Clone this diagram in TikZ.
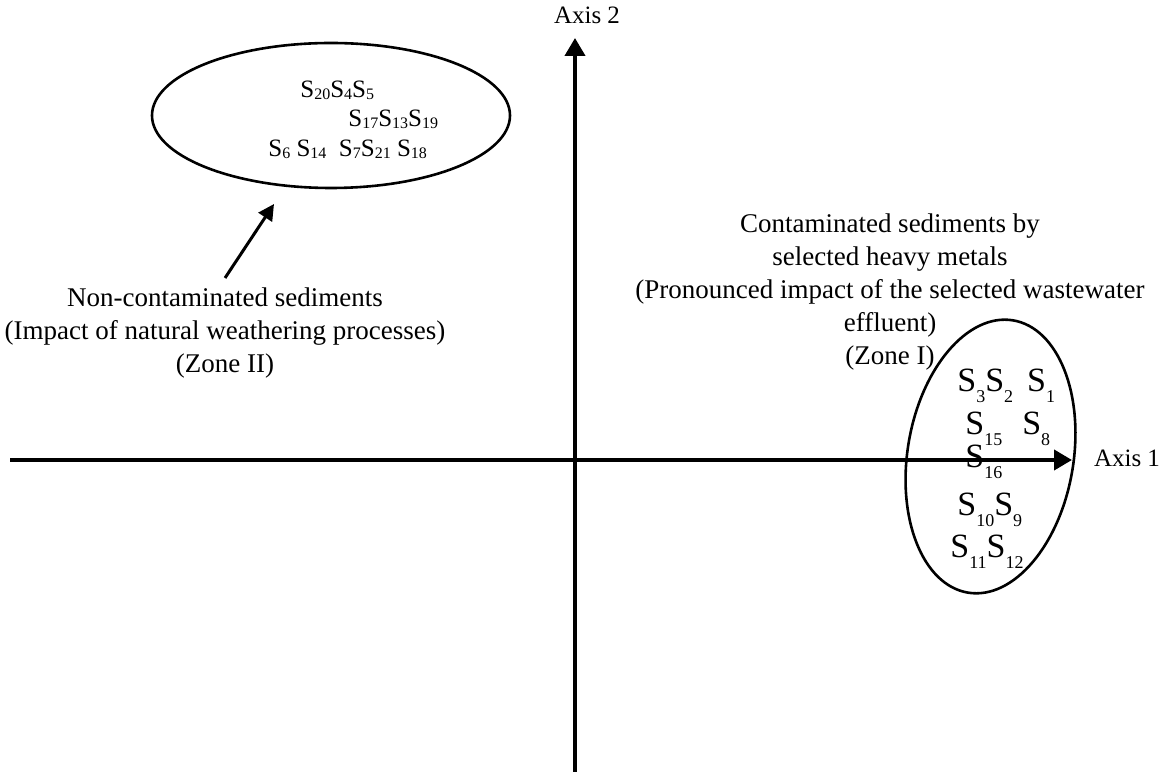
\documentclass[tikz,border=0pt]{standalone}
\usepackage{fontspec}
\setmainfont{Liberation Serif}
\usetikzlibrary{arrows.meta,shapes.geometric}
\tikzset{
  axisline/.style={-{Triangle[length=9pt,width=10pt]},draw=black,line width=2pt},
  pointer/.style={-{Triangle[length=8pt,width=8pt]},draw=black,line width=1.5pt},
  zone/.style={ellipse,draw=black,line width=1.3pt,inner sep=0pt},
  lbl/.style={align=center,font=\fontsize{13.5}{16.5}\selectfont,inner sep=0pt},
  axislbl/.style={font=\fontsize{12.5}{15}\selectfont,inner sep=0pt},
  sitesmall/.style={anchor=base west,inner sep=0pt,font=\fontsize{12.5}{15}\selectfont},
  sitebig/.style={anchor=base west,inner sep=0pt,font=\fontsize{17}{20}\selectfont},
}
\newcommand\Ss[1]{S\raisebox{-1pt}{\fontsize{8}{8}\selectfont #1}}
\newcommand\Sb[1]{S\raisebox{-5.5pt}{\fontsize{9}{9}\selectfont #1}}

\begin{document}
\begin{tikzpicture}[x=0.5pt,y=-0.5pt]

\useasboundingbox (0,0) rectangle (1169,774);

% axes
\coordinate (xstart) at (10,460);
\coordinate (xend)   at (1072,460);
\coordinate (ystart) at (575,772);
\coordinate (yend)   at (575,38);

\draw[axisline] (xstart) -- (xend);
\draw[axisline] (ystart) -- (yend);

\node[axislbl] (axis1) at (1127,458) {Axis 1};
\node[axislbl] (axis2) at (587,15)   {Axis 2};

% zone II
\node[zone,minimum width=179pt,minimum height=72.5pt] (zone2) at (331,115.5) {};

\node[sitesmall] (z2row1) at (300,98)  {\Ss{20}\Ss{4}\Ss{5}};
\node[sitesmall] (z2row2) at (348,127) {\Ss{17}\Ss{13}\Ss{19}};
\node[sitesmall] (z2row3) at (268,157) {\Ss{6} \Ss{14}\ \ \Ss{7}\Ss{21} \Ss{18}};

\node[lbl] (zone2lbl) at (225,333)
  {Non-contaminated sediments\\(Impact of natural weathering processes)\\(Zone II)};

\coordinate (ptrfrom) at (225,278);
\coordinate (ptrto)   at (274,204);
\draw[pointer] (ptrfrom) -- (ptrto);

% zone I
\node[zone,minimum width=83pt,minimum height=138pt,rotate=-9.4] (zone1) at (990.5,456.5) {};

\node[sitebig] (z1row1) at (957,392) {\Sb{3}\Sb{2}\hspace{7pt}\Sb{1}};
\node[sitebig] (z1row2) at (965,435) {\Sb{15}\hspace{10pt}\Sb{8}};
\node[sitebig] (z1row3) at (965,468) {\Sb{16}};
\node[sitebig] (z1row4) at (957,516) {\Sb{10}\Sb{9}};
\node[sitebig] (z1row5) at (950,558) {\Sb{11}\Sb{12}};

\node[lbl] (zone1lbl) at (890,292)
  {Contaminated sediments by\\selected heavy metals\\(Pronounced impact of the selected wastewater\\effluent)\\(Zone I)};

\end{tikzpicture}
\end{document}
